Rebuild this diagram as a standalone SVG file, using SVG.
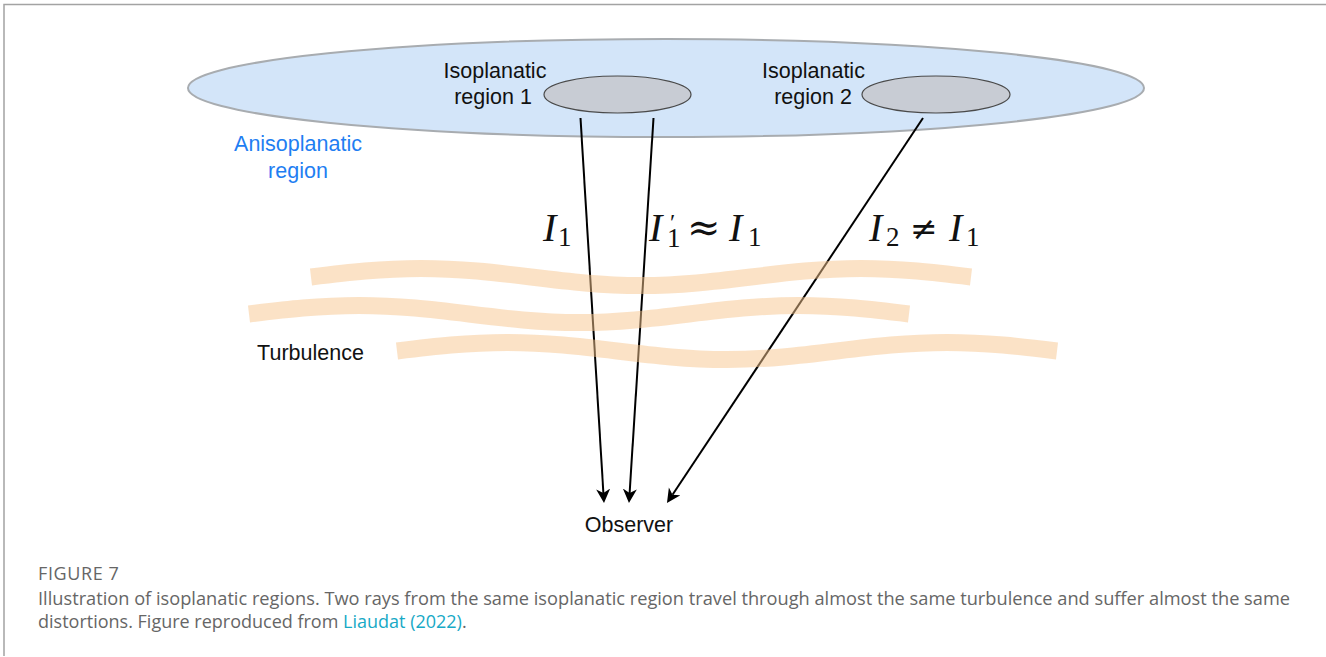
<svg xmlns="http://www.w3.org/2000/svg" width="1326" height="657" viewBox="0 0 1326 657">
<style>
.lbl{font-family:"Liberation Sans",Arial,Helvetica,sans-serif;font-size:21.5px;fill:#111;text-anchor:middle}
.blue{fill:#1f7ef2}
.math{font-family:"Liberation Serif","DejaVu Serif",serif;fill:#111}
.it{font-style:italic;font-size:40px}
.sub{font-size:27px}
.pr{font-size:24px}
.op{font-family:"DejaVu Serif",serif;font-size:40px}
.ne{font-family:"DejaVu Serif",serif;font-size:33px}
.ray{stroke:#000;stroke-width:2;fill:none}
.band{fill:none;stroke:#f8c58e;stroke-width:17;stroke-opacity:0.5;stroke-linecap:butt}
.cap{font-family:"Open Sans","Liberation Sans",sans-serif;font-size:18px;fill:#666}
.link{fill:#17a9c6}
</style>
<defs>
<marker id="ah" markerUnits="userSpaceOnUse" markerWidth="16" markerHeight="16" refX="4" refY="7" orient="auto">
<path d="M0,0 L14,7 L0,14 L4,7 Z" fill="#000"/>
</marker>
<path id="wave" d="M0,0 C36.8,-4.46 70.4,-8.5 110,-8.5 C149.6,-8.5 183.2,-4.46 220,0 C256.8,4.46 290.4,8.5 330,8.5 C369.6,8.5 403.2,4.46 440,0 C476.8,-4.46 510.4,-8.5 550,-8.5 C589.6,-8.5 623.2,-4.46 660,0"/>
</defs>
<rect width="1326" height="657" fill="#fff"/>
<g id="frame" stroke="#a3a3a3" stroke-width="1.5" fill="none">
<path d="M4,656 L4,4.5 L1326,4.5"/>
</g>
<g id="anisoplanatic">
<ellipse cx="666" cy="88" rx="478" ry="49" fill="#d3e5f9" stroke="#a8acb0" stroke-width="2"/>
<text class="lbl blue" x="298" y="151">Anisoplanatic</text>
<text class="lbl blue" x="298" y="178">region</text>
</g>
<g id="iso1">
<ellipse cx="617.5" cy="94.5" rx="73.5" ry="18.5" fill="#c8ccd4" stroke="#4a4a4a" stroke-width="1.2"/>
<text class="lbl" x="495" y="78">Isoplanatic</text>
<text class="lbl" x="493" y="104">region 1</text>
</g>
<g id="iso2">
<ellipse cx="936" cy="94.5" rx="74" ry="18.5" fill="#c8ccd4" stroke="#4a4a4a" stroke-width="1.2"/>
<text class="lbl" x="813.5" y="78">Isoplanatic</text>
<text class="lbl" x="813" y="104">region 2</text>
</g>
<g id="connectors">
<line class="ray" x1="580.5" y1="118" x2="603.4" y2="493" marker-end="url(#ah)"/>
<line class="ray" x1="653.5" y1="118" x2="629.6" y2="493" marker-end="url(#ah)"/>
<line class="ray" x1="923" y1="118" x2="672.5" y2="494.7" marker-end="url(#ah)"/>
</g>
<g id="math-labels" class="math">
<text><tspan class="it" x="543" y="241">I</tspan><tspan class="sub" x="558" y="246">1</tspan></text>
<text><tspan class="it" x="649" y="241">I</tspan><tspan class="pr" x="670" y="230">′</tspan><tspan class="sub" x="667" y="247">1</tspan><tspan class="op" x="687" y="241">≈</tspan><tspan class="it" x="729" y="241">I</tspan><tspan class="sub" x="748" y="246">1</tspan></text>
<text><tspan class="it" x="869" y="241">I</tspan><tspan class="sub" x="886" y="246">2</tspan><tspan class="ne" x="910" y="240">≠</tspan><tspan class="it" x="949" y="241">I</tspan><tspan class="sub" x="966" y="246">1</tspan></text>
</g>
<g id="turbulence">
<use href="#wave" class="band" transform="translate(311,277)"/>
<use href="#wave" class="band" transform="translate(249,314)"/>
<use href="#wave" class="band" transform="translate(397,351)"/>
<text class="lbl" x="310.5" y="360">Turbulence</text>
</g>
<g id="observer">
<text class="lbl" x="629" y="532">Observer</text>
</g>
<g id="caption">
<text class="cap" x="38" y="580" letter-spacing="0.6">FIGURE 7</text>
<text class="cap" x="38" y="605" textLength="1252" lengthAdjust="spacingAndGlyphs">Illustration of isoplanatic regions. Two rays from the same isoplanatic region travel through almost the same turbulence and suffer almost the same</text>
<text class="cap" x="38" y="628">distortions. Figure reproduced from <tspan class="link">Liaudat (2022)</tspan>.</text>
</g>
</svg>
